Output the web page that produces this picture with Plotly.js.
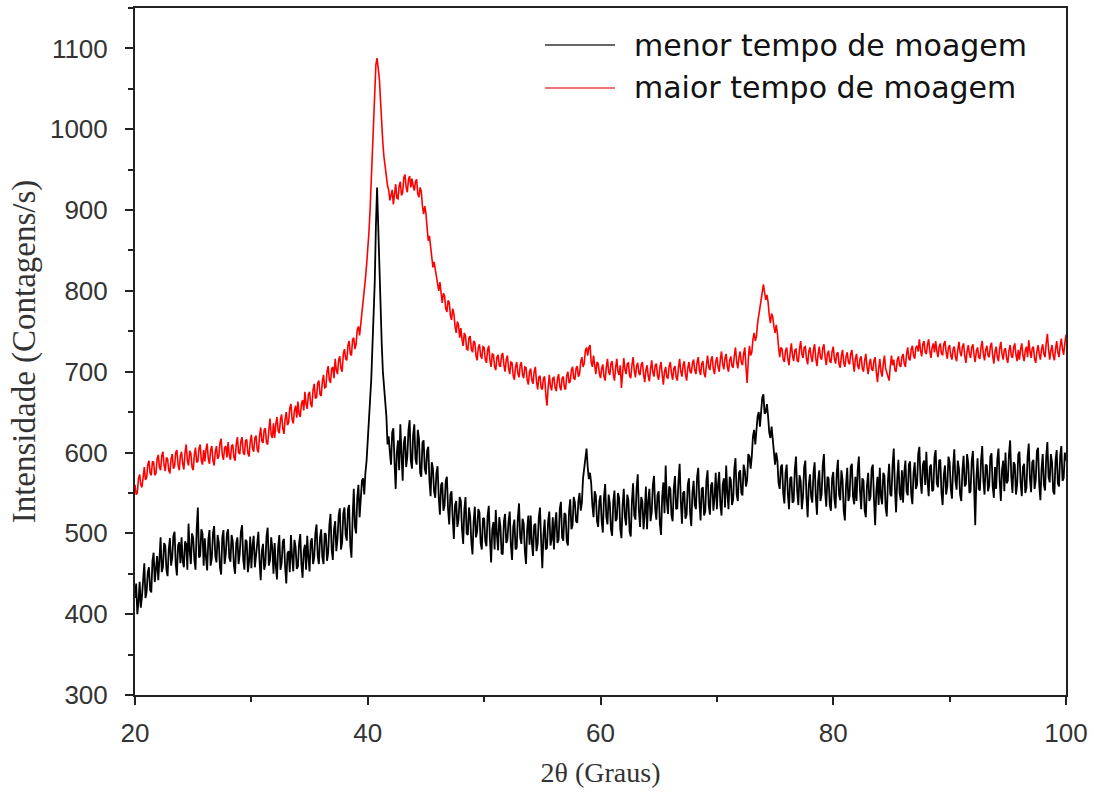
<!DOCTYPE html>
<html>
<head>
<meta charset="utf-8">
<script src="https://cdn.plot.ly/plotly-3.0.1.min.js"></script>
<style>html,body{margin:0;padding:0;background:#fff;}#chart{width:1094px;height:798px;}</style>
</head>
<body>
<div id="chart"></div>
<script>
// Scan grid: 2θ from 20° to 100°, step 0.1° (801 points); one row below = 2°
const THETA_START = 20;
const THETA_STEP = 0.1;

const seriesNames = ["menor tempo de moagem", "maior tempo de moagem"];

// menor tempo de moagem (black) – counts/s
const menorTempo = [
420,438,400,415,440,408,422,447,463,420,428,452,458,430,427,466,476,440,455,472,
442,470,495,452,458,488,485,455,447,480,494,460,470,497,502,462,448,485,489,463,
495,466,458,490,487,455,512,478,462,500,494,468,455,505,532,470,472,505,500,460,
494,470,454,492,504,460,469,500,509,472,464,498,489,458,449,495,504,462,474,500,
505,470,465,498,490,460,450,488,495,462,475,502,510,468,455,492,490,452,465,496,
457,485,497,458,472,495,502,466,442,478,487,455,462,496,507,460,467,495,482,450,
488,460,443,482,498,455,463,490,493,458,438,475,478,452,498,470,453,492,483,456,
459,488,499,462,445,478,486,455,497,470,453,490,494,462,470,500,511,472,462,495,
505,470,462,500,499,466,476,510,524,480,467,505,515,478,493,522,531,480,489,525,
532,498,491,530,535,485,470,520,555,508,500,545,560,520,543,565,568,548,575,590,
615,635,665,690,725,765,810,880,928,880,825,775,735,700,680,660,645,610,620,600,
585,625,630,588,555,600,615,578,635,598,565,612,620,582,595,628,640,590,580,622,
635,592,585,628,618,575,570,612,615,580,573,602,607,565,546,588,580,552,544,575,
583,545,523,560,563,528,534,565,570,530,511,548,552,518,493,535,540,508,517,545,
540,505,487,530,545,500,498,532,521,490,474,515,533,495,502,530,526,488,480,518,
519,490,484,522,534,492,464,505,514,480,529,498,479,520,509,475,474,515,524,488,
492,515,527,485,467,508,517,480,482,520,537,495,487,518,512,478,462,505,522,486,
522,488,472,510,512,478,487,520,532,490,457,498,517,480,482,515,527,485,492,520,
480,512,526,488,492,530,539,495,491,525,523,490,485,528,542,505,510,545,538,515,
513,540,550,528,538,568,580,592,605,582,567,575,562,535,520,552,547,515,508,540,
547,515,501,545,561,520,511,548,537,505,497,540,553,515,518,550,544,505,494,535,
555,520,510,548,541,502,496,540,562,522,517,555,573,528,508,545,539,505,524,558,
505,540,555,515,526,560,571,530,517,548,552,512,498,545,563,525,584,540,524,558,
555,522,515,556,571,530,531,565,586,540,512,550,552,518,523,560,568,525,509,550,
565,535,530,570,581,538,516,555,557,522,527,565,578,535,523,560,563,528,544,575,
530,560,576,535,522,560,568,532,584,550,530,570,566,535,542,580,593,548,540,575,
578,550,547,585,578,558,566,598,595,580,595,620,628,610,625,645,650,632,650,668,
672,648,650,660,645,625,618,632,617,595,585,600,590,562,555,582,585,550,537,575,
585,548,530,568,570,538,540,580,595,552,535,572,565,530,545,582,590,545,520,560,
573,545,538,575,588,545,523,565,578,540,548,585,598,552,533,570,568,535,528,568,
576,542,531,575,591,548,541,578,566,528,516,560,581,540,546,582,586,545,536,570,
540,578,595,552,530,568,565,528,520,560,575,540,545,580,585,542,510,552,570,535,
581,545,536,575,571,532,521,565,586,548,546,585,605,555,526,568,591,550,541,578,
538,575,590,552,547,585,589,548,536,575,588,555,560,598,607,565,549,585,590,560,
601,565,546,582,585,552,554,595,603,562,557,590,591,550,535,572,584,548,558,595,
588,555,543,582,604,565,554,590,580,548,540,578,596,558,561,598,587,550,552,590,
602,560,510,568,593,555,553,590,608,565,548,585,584,552,559,595,599,558,544,582,
555,592,605,565,540,578,590,552,600,562,565,598,615,570,550,588,585,548,560,598,
601,562,546,582,586,550,556,595,611,568,551,588,591,555,566,602,606,560,541,580,
598,560,553,595,613,570,563,598,588,552,548,590,603,562,558,596,608,565,568,600,
590
];

// maior tempo de moagem (red) – counts/s
const maiorTempo = [
560,548,550,568,573,560,557,575,582,566,569,585,590,574,572,589,588,572,574,592,
597,582,578,596,601,584,577,594,592,578,574,592,598,580,583,600,603,585,578,596,
601,586,579,600,610,590,584,602,599,582,578,597,606,588,589,605,610,590,585,603,
589,604,611,592,586,603,608,590,584,601,608,592,595,612,617,597,591,606,608,594,
613,597,591,608,610,594,590,610,619,600,598,614,619,600,597,615,616,599,595,613,
622,605,601,618,621,604,600,620,631,614,612,628,630,612,610,628,642,622,618,636,
618,635,644,627,624,641,647,630,623,642,650,634,637,655,660,641,636,652,658,643,
663,648,644,660,665,652,675,660,654,672,675,660,656,678,685,667,668,686,689,672,
670,688,696,680,681,700,707,690,686,704,706,692,716,702,697,715,719,704,700,722,
728,716,714,733,738,722,720,740,742,728,734,752,756,745,758,770,784,798,815,832,
850,872,900,935,975,1020,1055,1080,1088,1078,1062,1035,1005,982,965,950,942,930,925,912,
920,925,907,918,932,915,914,930,935,918,922,940,944,928,922,938,942,928,939,930,
924,935,938,920,916,928,923,905,895,905,896,878,862,868,856,838,829,836,827,815,
806,800,811,795,785,797,794,778,774,788,786,770,764,778,772,756,748,762,758,742,
754,740,732,748,744,728,727,742,744,728,724,738,736,720,714,730,734,720,716,731,
730,715,711,727,732,714,706,722,721,706,702,718,721,708,706,720,723,708,700,715,
720,704,697,712,711,695,690,706,712,698,693,708,712,696,692,706,705,690,684,700,
704,690,685,700,706,688,678,693,695,680,678,692,694,672,658,680,696,682,677,692,
693,680,676,691,697,682,677,692,694,680,678,695,700,686,688,702,706,692,690,704,
707,694,697,712,718,706,710,726,730,720,730,733,712,706,720,708,697,712,710,698,
692,704,709,694,689,706,716,700,696,710,713,697,689,705,716,700,696,708,680,698,
717,703,697,710,711,695,692,708,718,702,693,707,711,698,696,709,712,697,687,702,
708,695,688,703,714,699,694,708,710,695,690,705,712,697,684,700,706,693,692,707,
712,698,690,704,707,693,689,705,716,700,694,708,713,697,689,704,712,700,698,711,
715,702,697,712,718,702,696,710,713,698,693,708,720,706,702,715,719,703,697,712,
718,706,700,716,725,709,703,717,722,706,700,714,719,707,705,720,730,712,704,718,
725,712,708,722,730,706,686,715,732,720,724,740,748,738,744,760,770,778,786,798,
808,798,789,795,786,770,760,772,768,756,748,758,748,730,718,730,728,715,712,726,
730,716,708,724,735,720,713,727,728,714,712,728,738,722,717,730,731,716,709,725,
730,718,712,727,734,716,707,722,731,718,715,729,734,718,708,722,726,713,711,725,
731,716,710,722,724,709,705,720,727,711,706,719,724,712,709,722,727,712,700,716,
722,708,703,716,719,704,700,714,722,706,697,710,716,703,701,714,718,700,687,703,
716,700,694,710,720,704,699,696,689,706,720,708,715,702,700,714,719,708,706,718,
722,710,706,722,730,716,714,728,732,720,716,730,732,725,740,726,719,734,738,724,
722,734,740,725,717,730,735,724,738,726,718,731,735,722,721,734,738,724,716,730,
733,720,715,728,731,718,713,727,737,724,719,731,735,720,711,725,733,722,717,730,
734,720,712,726,730,718,716,730,738,722,714,727,732,720,718,731,736,720,710,725,
731,718,713,729,737,722,715,727,729,716,711,726,733,720,717,730,735,721,713,727,
715,728,735,720,713,726,731,718,739,725,717,729,731,716,711,725,733,722,715,728,
734,722,718,735,747,728,715,726,733,720,714,728,738,724,718,732,741,728,721,735,
746
];

const xTickVals = [20, 40, 60, 80, 100];
const yTickVals = [300, 400, 500, 600, 700, 800, 900, 1000, 1100];

const twoTheta = menorTempo.map((_, i) => Math.round((THETA_START + i * THETA_STEP) * 10) / 10);

const axisColor = '#222';
const tickFont = {family: 'Liberation Sans, Arial, sans-serif', size: 26, color: '#333'};
const xTitleFont = {family: 'Liberation Serif, Times New Roman, serif', size: 28, color: '#333'};
const yTitleFont = {family: 'Liberation Serif, Times New Roman, serif', size: 33, color: '#333'};

const traces = [
  {x: twoTheta, y: menorTempo, name: seriesNames[0], type: 'scatter', mode: 'lines',
   line: {color: '#000000', width: 1.8}, showlegend: false},
  {x: twoTheta, y: maiorTempo, name: seriesNames[1], type: 'scatter', mode: 'lines',
   line: {color: '#ff0000', width: 1.6}, showlegend: false}
];

const legendFont = {family: 'DejaVu Sans, Verdana, sans-serif', size: 30, color: '#111'};

const layout = {
  width: 1094, height: 798,
  margin: {l: 135, r: 28, t: 8, b: 103, pad: 0},
  paper_bgcolor: '#ffffff', plot_bgcolor: '#ffffff',
  showlegend: false,
  xaxis: {
    range: [20, 100], tickmode: 'array', tickvals: xTickVals,
    ticks: 'outside', ticklen: 8, tickwidth: 2, tickcolor: axisColor,
    minor: {dtick: 10, tick0: 20, ticks: 'outside', ticklen: 5, tickwidth: 2, tickcolor: axisColor, showgrid: false},
    showline: true, linecolor: axisColor, linewidth: 2, mirror: true,
    showgrid: false, zeroline: false, tickfont: tickFont, ticklabelstandoff: 6,
    title: {text: '2θ (Graus)', font: xTitleFont, standoff: 15}
  },
  yaxis: {
    range: [300, 1150], tickmode: 'array', tickvals: yTickVals,
    ticks: 'outside', ticklen: 8, tickwidth: 2, tickcolor: axisColor,
    minor: {dtick: 50, tick0: 300, ticks: 'outside', ticklen: 5, tickwidth: 2, tickcolor: axisColor, showgrid: false},
    showline: true, linecolor: axisColor, linewidth: 2, mirror: true,
    showgrid: false, zeroline: false, tickfont: tickFont, ticklabelstandoff: 12,
    title: {text: 'Intensidade (Contagens/s)', font: yTitleFont, standoff: 4}
  },
  shapes: [
    {type: 'line', xref: 'paper', yref: 'paper', x0: 0.4404, x1: 0.5156, y0: 0.9461, y1: 0.9461,
     line: {color: '#333333', width: 1.5}},
    {type: 'line', xref: 'paper', yref: 'paper', x0: 0.4404, x1: 0.5156, y0: 0.8836, y1: 0.8836,
     line: {color: '#ee4444', width: 1.5}}
  ],
  annotations: [
    {xref: 'paper', yref: 'paper', x: 0.5338, y: 0.9461, xanchor: 'left', yanchor: 'middle',
     text: seriesNames[0], showarrow: false, font: legendFont},
    {xref: 'paper', yref: 'paper', x: 0.5338, y: 0.8836, xanchor: 'left', yanchor: 'middle',
     text: seriesNames[1], showarrow: false, font: legendFont}
  ]
};

Plotly.newPlot('chart', traces, layout, {displayModeBar: false, staticPlot: true});
</script>
</body>
</html>
